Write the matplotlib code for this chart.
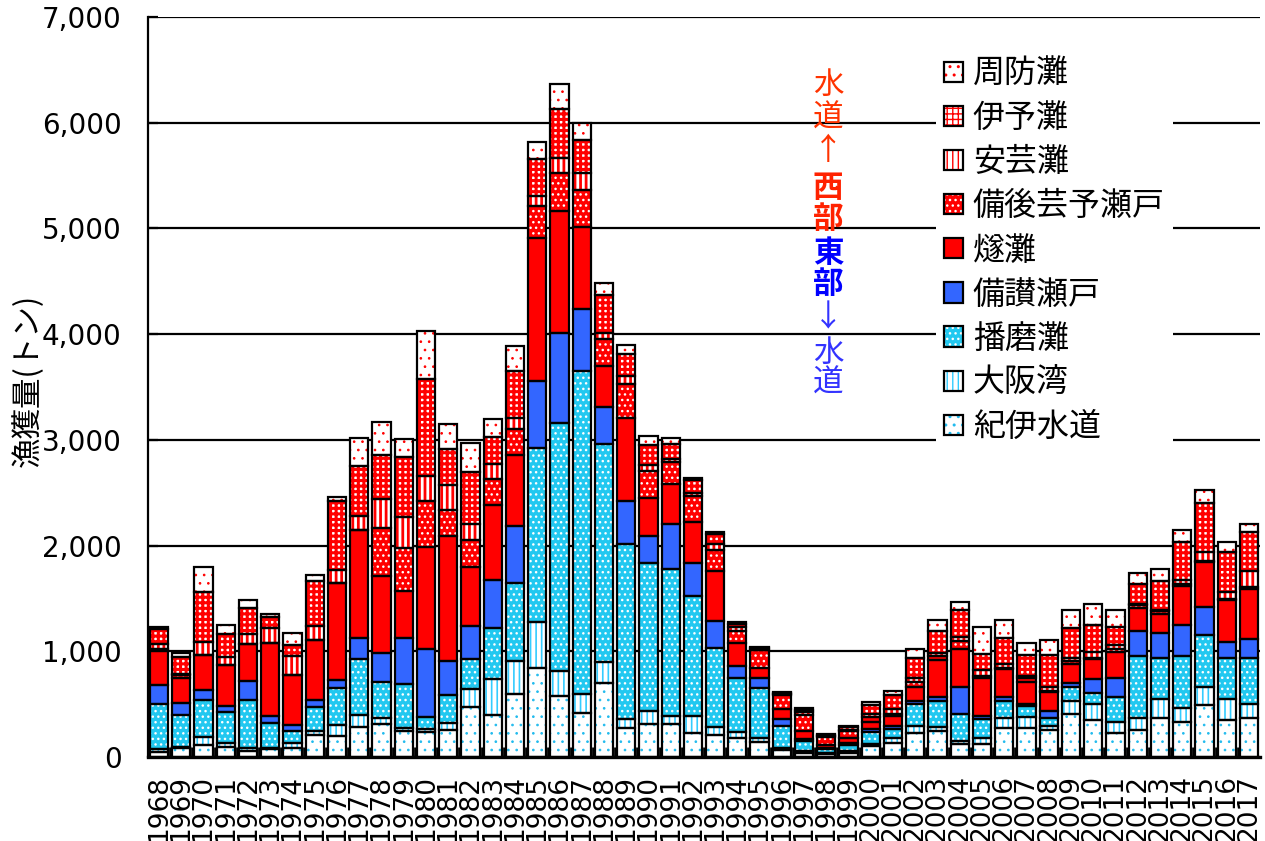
import matplotlib
matplotlib.use('Agg')
import matplotlib.pyplot as plt
from matplotlib.patches import Patch
from matplotlib.ticker import FuncFormatter
import numpy as np

plt.rcParams['font.family'] = ['DejaVu Sans', 'Noto Sans CJK JP']

years = list(range(1968, 2018))

# catch by area (t), stacked from bottom to top
kii = [45, 85, 110, 90, 54, 79, 85, 211, 199, 284,
       315, 244, 239, 260, 475, 399, 596, 840, 575, 420,
       703, 278, 309, 309, 230, 208, 177, 145, 63, 41,
       30, 35, 105, 136, 230, 246, 126, 120, 277, 277,
       252, 410, 347, 230, 252, 372, 334, 492, 347, 372]
osaka = [35, 5, 76, 40, 30, 5, 47, 38, 101, 117,
         50, 29, 30, 63, 164, 336, 315, 441, 235, 176,
         199, 79, 126, 79, 158, 76, 60, 38, 19, 20,
         10, 20, 20, 47, 63, 38, 25, 63, 95, 101,
         41, 120, 158, 104, 120, 173, 132, 170, 199, 132]
harima = [423, 305, 350, 293, 451, 233, 117, 221, 353, 530,
          349, 420, 105, 265, 286, 483, 739, 1646, 2352, 3058,
          2056, 1656, 1403, 1394, 1135, 750, 508, 467, 211, 88,
          32, 55, 115, 85, 205, 246, 252, 173, 158, 104,
          79, 132, 104, 233, 583, 394, 489, 492, 394, 435]
bisan = [177, 120, 101, 63, 180, 73, 57, 66, 79, 196,
         273, 433, 651, 323, 315, 454, 533, 630, 848, 588,
         353, 410, 252, 426, 309, 252, 117, 95, 63, 20,
         15, 20, 25, 25, 32, 38, 259, 32, 38, 20,
         63, 41, 132, 177, 236, 236, 293, 265, 151, 173]
hiuchi = [322, 233, 331, 385, 353, 684, 473, 574, 918, 1019,
          727, 449, 966, 1176, 554, 710, 672, 1357, 1155, 769,
          388, 788, 356, 372, 394, 473, 214, 95, 95, 76,
          25, 50, 70, 95, 132, 350, 356, 363, 262, 208,
          183, 180, 189, 252, 214, 173, 369, 429, 391, 473]
bingo = [15, 30, 0, 0, 0, 0, 0, 0, 0, 0,
         449, 399, 428, 252, 256, 252, 252, 294, 357, 353,
         259, 315, 259, 214, 243, 199, 117, 170, 136, 151,
         75, 65, 45, 20, 50, 38, 79, 15, 15, 38,
         10, 25, 10, 28, 30, 30, 15, 10, 10, 20]
aki = [54, 10, 117, 79, 98, 142, 173, 132, 117, 132,
       273, 294, 235, 235, 155, 139, 97, 97, 147, 160,
       57, 79, 57, 28, 32, 54, 38, 5, 5, 25,
       10, 10, 30, 47, 38, 32, 38, 54, 32, 15,
       32, 32, 57, 35, 15, 15, 47, 82, 73, 151]
iyo = [136, 158, 476, 214, 243, 104, 110, 419, 653, 473,
       420, 567, 924, 336, 491, 252, 449, 353, 462, 315,
       353, 211, 189, 136, 117, 95, 25, 15, 10, 20,
       15, 25, 85, 129, 183, 205, 252, 158, 252, 199,
       303, 277, 252, 170, 189, 268, 356, 463, 375, 372]
suo = [25, 40, 236, 85, 79, 32, 107, 57, 41, 262,
       315, 176, 449, 239, 273, 168, 239, 160, 231, 155,
       120, 82, 85, 57, 25, 25, 20, 15, 10, 20,
       10, 10, 25, 44, 85, 101, 82, 255, 164, 117,
       148, 170, 202, 161, 104, 120, 117, 120, 95, 79]

areas = ['紀伊水道', '大阪湾', '播磨灘', '備讃瀬戸', '燧灘',
         '備後芸予瀬戸', '安芸灘', '伊予灘', '周防灘']
series = [kii, osaka, harima, bisan, hiuchi, bingo, aki, iyo, suo]

# face, hatch, hatch colour, hatch linewidth
styles = [('white', '..', '#22BBEE', 0.7),
          ('white', '|||', '#33CCFF', 1.2),
          ('#22C8F0', '...', 'white', 1.0),
          ('#3366FF', None, '#3366FF', 1.0),
          ('#FF0000', None, '#FF0000', 1.0),
          ('#FF0000', '...', 'white', 1.0),
          ('white', '|||', '#FF0000', 2.0),
          ('white', '+++', '#FF0000', 2.2),
          ('white', '..', '#FF0000', 0.7)]

fig = plt.figure(figsize=(12.65, 8.41), dpi=100)
ax = fig.add_axes([148 / 1265, 1 - 757 / 841, 1112 / 1265, 740 / 841])

x = np.arange(len(years))
bottom = np.zeros(len(years))
for vals, (face, hatch, hc, hlw) in zip(series, styles):
    vals = np.array(vals, dtype=float)
    with plt.rc_context({'hatch.linewidth': hlw}):
        bars = ax.bar(x, vals, 0.82, bottom=bottom, color=face, hatch=hatch,
                      edgecolor=hc, linewidth=0, zorder=2)
        for p in bars:
            if hasattr(p, 'set_hatch_linewidth'):
                p.set_hatch_linewidth(hlw)
    ax.bar(x, vals, 0.82, bottom=bottom, fill=False, edgecolor='black',
           linewidth=1.6, zorder=3)
    bottom += vals

ax.set_xlim(-0.5, len(years) - 0.5)
ax.set_ylim(0, 7000)
ax.set_yticks(range(0, 7001, 1000))
ax.yaxis.set_major_formatter(FuncFormatter(lambda v, p: f'{int(v):,}'))
ax.set_xticks(x)
ax.set_xticklabels([str(y) for y in years], rotation=90, fontsize=19)
ax.set_xticks(x[:-1] + 0.5, minor=True)
ax.tick_params(axis='x', which='major', length=0, pad=13)
ax.tick_params(axis='x', which='minor', direction='in', length=7, width=2)
ax.tick_params(axis='y', direction='in', length=7, width=1.6, labelsize=20, pad=19)
ax.yaxis.grid(True, color='black', linewidth=1.6)
ax.set_axisbelow(True)
for s in ['top', 'right']:
    ax.spines[s].set_visible(False)
ax.spines['left'].set_linewidth(1.6)
ax.spines['bottom'].set_linewidth(2.4)

# legend, top row first
handles = []
for face, hatch, hc, hlw in styles:
    with plt.rc_context({'hatch.linewidth': hlw}):
        h1 = Patch(facecolor=face, hatch=hatch, edgecolor=hc, linewidth=0)
    if hasattr(h1, 'set_hatch_linewidth'):
        h1.set_hatch_linewidth(hlw)
    h2 = Patch(fill=False, edgecolor='black', linewidth=1.6)
    handles.append((h1, h2))
leg = ax.legend(handles[::-1], areas[::-1], loc='upper left',
                bbox_to_anchor=(936 / 1265, 1 - 50 / 841),
                bbox_transform=fig.transFigure,
                prop={'family': ['Noto Sans CJK JP', 'DejaVu Sans'], 'size': 23},
                frameon=True, fancybox=False, edgecolor='none', facecolor='white',
                framealpha=1, handlelength=0.6, handleheight=0.6,
                handletextpad=0.3, labelspacing=0.38, borderpad=0.25,
                borderaxespad=0)

# vertical note: western / eastern part
note = [('水', 85, '#FF3300', 'normal'), ('道', 118, '#FF3300', 'normal'),
        ('↑', 152, '#FF3300', 'normal'),
        ('西', 188, '#FF2200', 'bold'), ('部', 219, '#FF2200', 'bold'),
        ('東', 253, '#0000FF', 'bold'), ('部', 284, '#0000FF', 'bold'),
        ('↓', 318, '#3333FF', 'normal'),
        ('水', 353, '#3333FF', 'normal'), ('道', 383, '#3333FF', 'normal')]
for ch, yp, col, w in note:
    fig.text(828 / 1265, 1 - yp / 841, ch, color=col, fontweight=w, fontsize=22,
             family=['Noto Sans CJK JP', 'DejaVu Sans'], ha='center', va='center')

fig.text(28 / 1265, 1 - 380 / 841, '漁獲量(トン)', rotation=90, fontsize=22,
         family=['Noto Sans CJK JP', 'DejaVu Sans'], ha='center', va='center')

fig.savefig('out.png', dpi=100)
